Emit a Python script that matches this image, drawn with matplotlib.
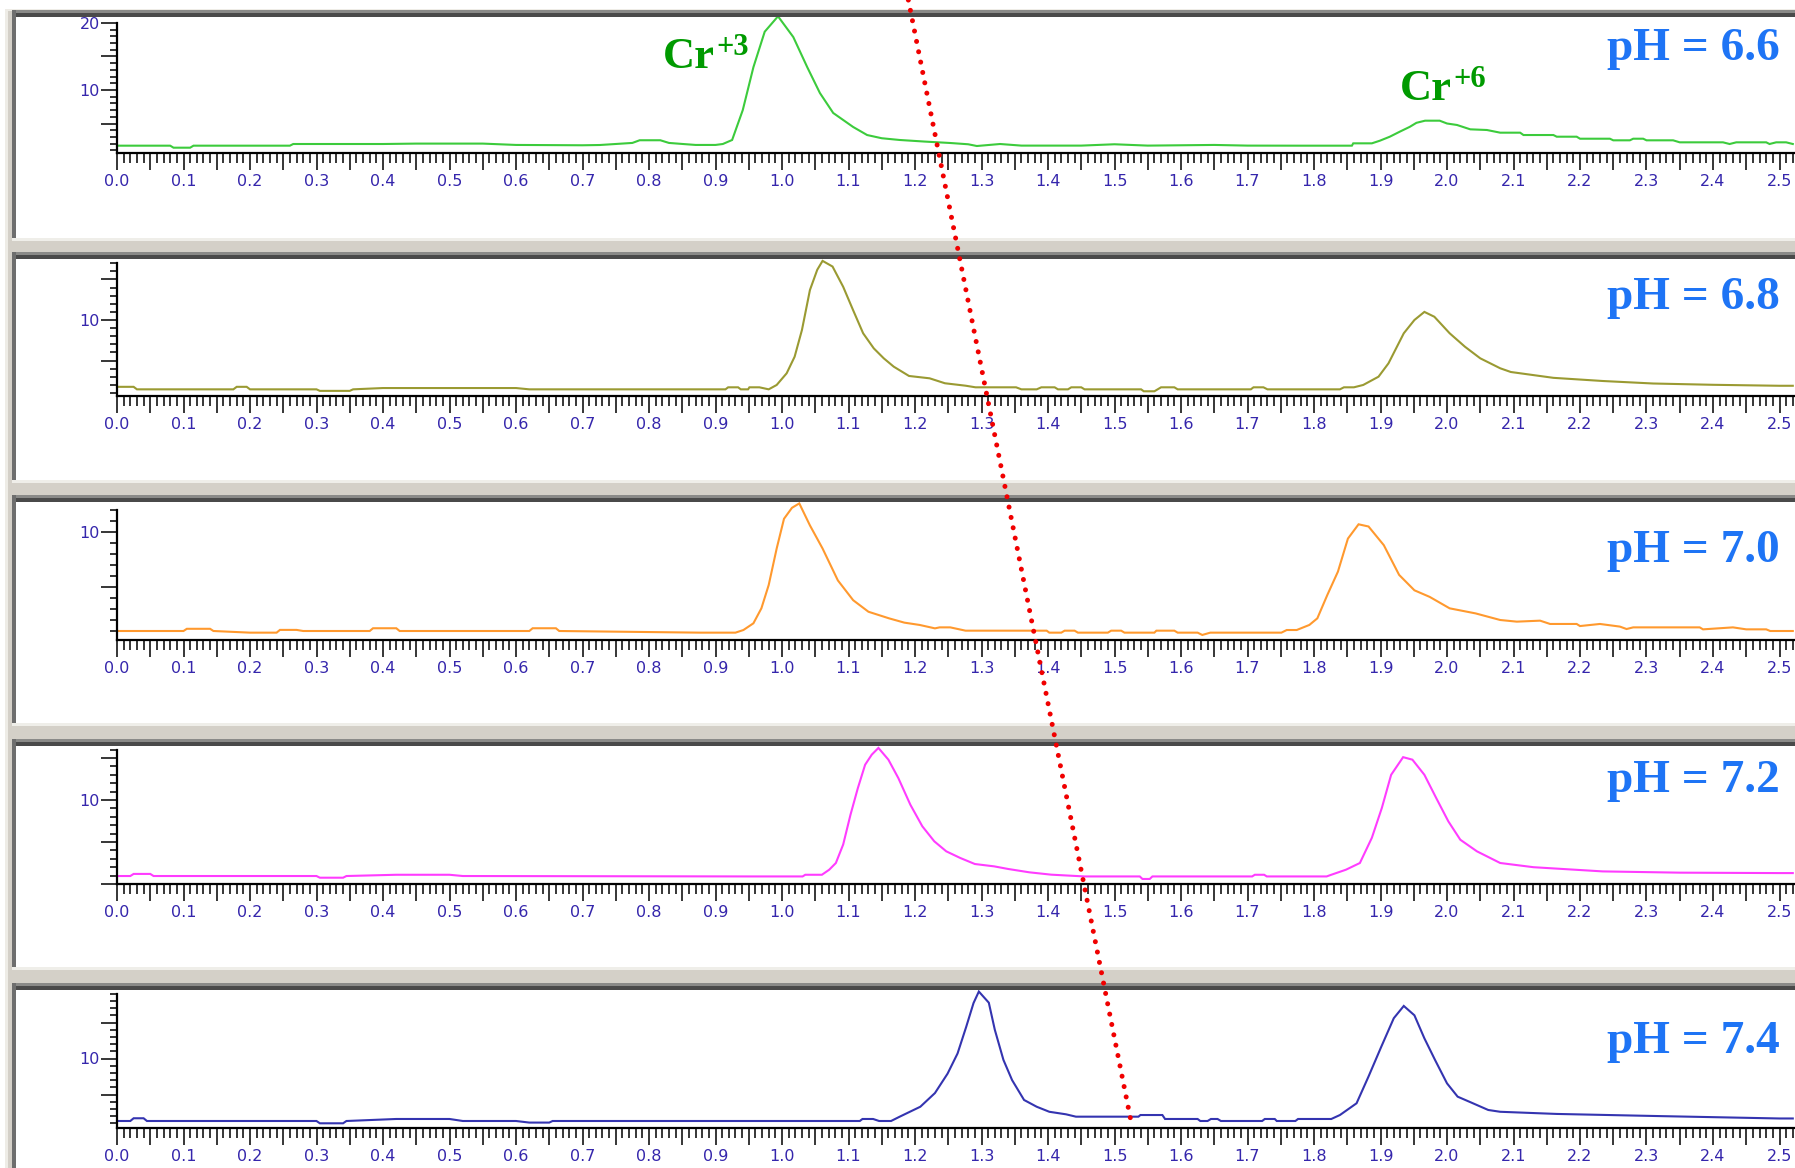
"""Chromatogramme Cr(III) / Cr(VI) bei fuenf pH-Werten, Fenster untereinander."""

import math

import matplotlib
import numpy as np

matplotlib.use("Agg")
import matplotlib.pyplot as plt
from matplotlib.lines import Line2D
from matplotlib.patches import Rectangle
from matplotlib.ticker import FixedLocator, FuncFormatter
from matplotlib.transforms import IdentityTransform

ph66 = [(0.00, 1.69), (0.08, 1.69), (0.085, 1.39), (0.11, 1.39), (0.115, 1.69), (0.26, 1.69),
        (0.265, 1.94), (0.40, 1.94), (0.45, 2.0), (0.55, 2.0), (0.60, 1.8), (0.70, 1.75),
        (0.726, 1.79), (0.775, 2.1), (0.786, 2.5), (0.817, 2.5), (0.83, 2.1), (0.851, 1.94),
        (0.87, 1.8), (0.90, 1.8), (0.911, 1.94), (0.925, 2.54), (0.941, 7.0), (0.957, 13.4),
        (0.974, 18.7), (0.994, 21.0), (1.017, 17.9), (1.038, 13.4), (1.057, 9.55), (1.077, 6.57),
        (1.107, 4.48), (1.128, 3.28), (1.150, 2.8), (1.177, 2.54), (1.215, 2.3), (1.253, 2.09),
        (1.280, 1.9), (1.293, 1.64), (1.328, 1.94), (1.360, 1.7), (1.450, 1.7), (1.500, 1.9),
        (1.550, 1.7), (1.650, 1.8), (1.700, 1.7), (1.779, 1.69), (1.857, 1.69), (1.859, 2.04),
        (1.887, 2.04), (1.899, 2.43), (1.914, 3.03), (1.929, 3.78), (1.944, 4.5), (1.954, 5.1),
        (1.967, 5.42), (1.989, 5.42), (2.000, 5.0), (2.015, 4.78), (2.035, 4.13), (2.060, 4.03),
        (2.080, 3.63), (2.110, 3.63), (2.115, 3.28), (2.160, 3.28), (2.165, 3.03), (2.195, 3.03),
        (2.200, 2.73), (2.245, 2.73), (2.250, 2.49), (2.275, 2.49), (2.280, 2.73), (2.295, 2.73),
        (2.300, 2.49), (2.340, 2.49), (2.350, 2.19), (2.415, 2.19), (2.425, 1.94), (2.435, 2.19),
        (2.480, 2.19), (2.485, 1.94), (2.495, 2.19), (2.510, 2.19), (2.520, 1.94)]

ph68 = [(0.00, 1.75), (0.025, 1.75), (0.03, 1.44), (0.175, 1.44), (0.18, 1.75), (0.195, 1.75),
        (0.20, 1.44), (0.30, 1.44), (0.305, 1.25), (0.35, 1.25), (0.355, 1.44), (0.40, 1.6),
        (0.60, 1.6), (0.62, 1.44), (0.877, 1.44), (0.915, 1.44), (0.919, 1.69), (0.934, 1.69),
        (0.938, 1.44), (0.949, 1.44), (0.951, 1.69), (0.966, 1.69), (0.980, 1.44), (0.992, 1.98),
        (1.007, 3.42), (1.019, 5.47), (1.030, 8.77), (1.042, 13.7), (1.053, 16.2), (1.061, 17.3),
        (1.076, 16.6), (1.092, 14.1), (1.107, 11.2), (1.122, 8.36), (1.138, 6.5), (1.153, 5.27),
        (1.168, 4.24), (1.191, 3.09), (1.222, 2.8), (1.245, 2.19), (1.276, 1.89), (1.291, 1.69),
        (1.352, 1.69), (1.360, 1.44), (1.383, 1.44), (1.390, 1.69), (1.410, 1.69), (1.415, 1.44),
        (1.430, 1.44), (1.435, 1.69), (1.450, 1.69), (1.455, 1.44), (1.540, 1.44), (1.544, 1.2),
        (1.560, 1.2), (1.570, 1.69), (1.590, 1.69), (1.595, 1.44), (1.705, 1.44), (1.709, 1.69),
        (1.724, 1.69), (1.730, 1.44), (1.839, 1.44), (1.845, 1.69), (1.860, 1.69), (1.874, 1.98),
        (1.897, 3.0), (1.912, 4.65), (1.935, 8.36), (1.951, 10.0), (1.966, 11.0), (1.981, 10.4),
        (2.004, 8.36), (2.027, 6.7), (2.050, 5.27), (2.080, 4.04), (2.096, 3.58), (2.160, 2.86),
        (2.234, 2.47), (2.310, 2.16), (2.400, 2.0), (2.500, 1.88), (2.520, 1.88)]

ph70 = [(0.00, 1.0), (0.10, 1.0), (0.105, 1.2), (0.14, 1.2), (0.145, 1.0), (0.20, 0.85),
        (0.24, 0.85), (0.245, 1.1), (0.27, 1.1), (0.28, 1.0), (0.38, 1.0), (0.385, 1.25),
        (0.42, 1.25), (0.425, 1.0), (0.62, 1.0), (0.625, 1.25), (0.66, 1.25), (0.665, 1.0),
        (0.877, 0.85), (0.930, 0.85), (0.942, 1.09), (0.957, 1.7), (0.969, 3.06), (0.980, 5.18),
        (0.992, 8.5), (1.003, 11.2), (1.015, 12.2), (1.026, 12.6), (1.042, 10.6), (1.061, 8.5),
        (1.084, 5.6), (1.107, 3.8), (1.130, 2.75), (1.161, 2.15), (1.184, 1.76), (1.207, 1.55),
        (1.230, 1.24), (1.237, 1.33), (1.253, 1.33), (1.276, 1.03), (1.398, 1.03), (1.402, 0.85),
        (1.420, 0.85), (1.425, 1.03), (1.440, 1.03), (1.445, 0.85), (1.490, 0.85), (1.495, 1.03),
        (1.510, 1.03), (1.515, 0.85), (1.560, 0.85), (1.563, 1.03), (1.590, 1.03), (1.595, 0.85),
        (1.625, 0.85), (1.632, 0.64), (1.644, 0.85), (1.751, 0.85), (1.759, 1.09), (1.774, 1.09),
        (1.793, 1.55), (1.805, 2.15), (1.820, 4.27), (1.836, 6.4), (1.851, 9.4), (1.867, 10.7),
        (1.882, 10.5), (1.905, 8.8), (1.928, 6.1), (1.951, 4.7), (1.974, 4.1), (2.004, 3.06),
        (2.043, 2.6), (2.080, 2.0), (2.105, 1.85), (2.140, 1.94), (2.155, 1.64), (2.195, 1.64),
        (2.200, 1.45), (2.230, 1.64), (2.260, 1.4), (2.270, 1.18), (2.280, 1.33), (2.380, 1.33),
        (2.385, 1.15), (2.430, 1.33), (2.450, 1.15), (2.480, 1.15), (2.486, 1.0), (2.520, 1.0)]

ph72 = [(0.00, 0.95), (0.02, 0.95), (0.025, 1.2), (0.05, 1.2), (0.055, 0.95), (0.30, 0.95),
        (0.305, 0.75), (0.34, 0.75), (0.345, 0.95), (0.42, 1.1), (0.50, 1.1), (0.52, 0.95),
        (0.952, 0.9), (1.031, 0.9), (1.035, 1.1), (1.060, 1.1), (1.071, 1.7), (1.081, 2.5),
        (1.092, 4.7), (1.103, 8.25), (1.114, 11.4), (1.125, 14.2), (1.135, 15.4), (1.145, 16.2),
        (1.160, 14.8), (1.175, 12.6), (1.193, 9.44), (1.211, 6.87), (1.229, 5.08), (1.247, 3.89),
        (1.268, 3.1), (1.290, 2.38), (1.319, 2.1), (1.340, 1.79), (1.372, 1.39), (1.405, 1.11),
        (1.455, 0.9), (1.538, 0.9), (1.542, 0.6), (1.553, 0.6), (1.557, 0.9), (1.707, 0.9),
        (1.711, 1.1), (1.725, 1.1), (1.729, 0.9), (1.819, 0.9), (1.826, 1.1), (1.848, 1.7),
        (1.869, 2.5), (1.887, 5.5), (1.902, 9.05), (1.916, 13.0), (1.934, 15.1), (1.948, 14.8),
        (1.966, 13.0), (1.984, 10.2), (2.002, 7.46), (2.020, 5.27), (2.045, 3.89), (2.080, 2.5),
        (2.130, 2.0), (2.234, 1.5), (2.350, 1.35), (2.500, 1.3), (2.520, 1.3)]

ph74 = [(0.00, 1.32), (0.02, 1.32), (0.025, 1.7), (0.04, 1.7), (0.045, 1.32), (0.30, 1.32),
        (0.305, 1.0), (0.34, 1.0), (0.345, 1.32), (0.42, 1.6), (0.50, 1.6), (0.52, 1.32),
        (0.60, 1.32), (0.62, 1.1), (0.65, 1.1), (0.655, 1.32), (1.117, 1.32), (1.121, 1.6),
        (1.137, 1.6), (1.146, 1.32), (1.164, 1.32), (1.177, 1.92), (1.208, 3.3), (1.230, 5.2),
        (1.249, 7.9), (1.264, 10.7), (1.277, 14.4), (1.288, 17.7), (1.296, 19.3), (1.311, 17.75),
        (1.320, 14.0), (1.333, 9.8), (1.346, 7.0), (1.364, 4.24), (1.383, 3.3), (1.402, 2.6),
        (1.427, 2.25), (1.442, 1.92), (1.536, 1.92), (1.539, 2.15), (1.572, 2.15), (1.576, 1.6),
        (1.625, 1.6), (1.629, 1.32), (1.640, 1.32), (1.645, 1.6), (1.655, 1.6), (1.660, 1.32),
        (1.722, 1.32), (1.726, 1.6), (1.741, 1.6), (1.744, 1.32), (1.772, 1.32), (1.776, 1.6),
        (1.826, 1.6), (1.839, 2.15), (1.864, 3.78), (1.882, 7.5), (1.901, 11.6), (1.920, 15.6),
        (1.935, 17.3), (1.951, 16.0), (1.966, 12.8), (1.982, 9.8), (2.000, 6.55), (2.016, 4.7),
        (2.037, 3.86), (2.062, 2.85), (2.080, 2.6), (2.165, 2.3), (2.320, 2.0), (2.500, 1.67),
        (2.520, 1.67)]

ph_texte = ["pH = 6.6", "pH = 6.8", "pH = 7.0", "pH = 7.2", "pH = 7.4"]
kurven = [ph66, ph68, ph70, ph72, ph74]
farben = ["#3ccb3c", "#9a9a32", "#ff992e", "#ff3cff", "#3434b0"]
oberster_tick = [20, 17, 12, 16, 19]

# rote Markierungslinie (Zeit oben am Bildrand, Endpunkt im letzten Fenster)
rot_t_oben = 1.19
rot_t_unten = 1.525
rot_s_unten = 1.2

# Layout in Pixeln (1795 x 1168)
W, H = 1795, 1168
X0_PIX = 117
PIX_PRO_MIN = 665
INNEN_LINKS = 16
FENSTER_H = 221
fenster_oben = [17, 259, 502, 746, 990]
null_pix = [157, 401, 642, 884, 1130.5]
pix_pro_einheit = [6.7, 8.1, 11.0, 8.4, 7.2]
achsen_pix = [153.3, 396, 640, 884, 1128]
text_basis = [60, 309, 562, 792, 1053]

TICKFARBE = "#3526ac"

fig = plt.figure(figsize=(W / 100, H / 100), dpi=100)
fig.patch.set_facecolor("white")


def rechteck(x0, y0, x1, y1, farbe, z):
    fig.add_artist(Rectangle((x0 / W, 1 - y1 / H), (x1 - x0) / W, (y1 - y0) / H,
                             transform=fig.transFigure, facecolor=farbe, edgecolor="none",
                             zorder=z))


# grauer Fensterrahmen
rechteck(5, 9, W, H, "#d4d0c8", -1)
rechteck(5, 9, 8, H, "#eeece6", 0.5)
rechteck(5, 9, W, 11, "#eeece6", 0.5)
for oben in fenster_oben:
    unten = oben + FENSTER_H
    rechteck(12, oben - 7, W, oben - 4, "#8a8a88", 0.5)
    rechteck(12, oben - 4, W, oben, "#4a4a4a", 0.5)
    rechteck(12, oben - 7, INNEN_LINKS, unten, "#6e6e6e", 0.5)
    rechteck(12, unten, W, unten + 3, "#efeee9", 0.5)

x_major = [round(0.05 * k, 2) for k in range(51)]
x_minor = [round(0.01 * k, 2) for k in range(253) if k % 5 != 0]

achsen = []
for i in range(5):
    oben = fenster_oben[i]
    unten = oben + FENSTER_H
    ax = fig.add_axes([INNEN_LINKS / W, 1 - unten / H, (W - INNEN_LINKS) / W, FENSTER_H / H])
    ax.set_facecolor("white")

    t, s = np.array(kurven[i]).T
    ax.plot(t, s, color=farben[i], lw=1.5, solid_joinstyle="miter")

    x_max = (W - X0_PIX) / PIX_PRO_MIN
    ax.set_xlim((INNEN_LINKS - X0_PIX) / PIX_PRO_MIN, x_max)
    ax.set_ylim((null_pix[i] - unten) / pix_pro_einheit[i], (null_pix[i] - oben) / pix_pro_einheit[i])
    achse = (null_pix[i] - achsen_pix[i]) / pix_pro_einheit[i]

    for seite in ["top", "right"]:
        ax.spines[seite].set_visible(False)
    ax.spines["bottom"].set_position(("data", achse))
    ax.spines["left"].set_position(("data", 0))
    ax.spines["bottom"].set_bounds(0, x_max)
    ax.spines["left"].set_bounds(achse, oberster_tick[i])
    for seite in ["bottom", "left"]:
        ax.spines[seite].set_linewidth(1.6)
        ax.spines[seite].set_color("black")

    ax.xaxis.set_major_locator(FixedLocator(x_major))
    ax.xaxis.set_minor_locator(FixedLocator(x_minor))
    ax.xaxis.set_major_formatter(FuncFormatter(
        lambda v, pos: f"{v:.1f}" if abs(v * 10 - round(v * 10)) < 1e-6 else ""))

    y_werte = list(range(math.ceil(achse), oberster_tick[i] + 1))
    ax.yaxis.set_major_locator(FixedLocator([v for v in y_werte if v % 5 == 0]))
    ax.yaxis.set_minor_locator(FixedLocator([v for v in y_werte if v % 5 != 0]))
    ax.yaxis.set_major_formatter(FuncFormatter(
        lambda v, pos: str(int(round(v))) if round(v) % 10 == 0 and v > 0 else ""))

    ax.tick_params(axis="x", which="major", direction="out", length=12, width=1.1, pad=3,
                   labelsize=11.5, labelcolor=TICKFARBE, color="black")
    ax.tick_params(axis="x", which="minor", direction="out", length=7, width=1.1, color="black")
    ax.tick_params(axis="y", which="major", direction="out", length=11.5, width=1.1, pad=1,
                   labelsize=11.5, labelcolor=TICKFARBE, color="black")
    ax.tick_params(axis="y", which="minor", direction="out", length=5, width=1.1, color="black")

    fig.text(1780 / W, 1 - text_basis[i] / H, ph_texte[i], ha="right", va="baseline",
             fontsize=34, fontweight="bold", family="Liberation Serif", color="#1e74f5")
    achsen.append(ax)

# Peakbeschriftung im obersten Fenster
for x_pix, y_pix, hoch in [(663, 68, "+3"), (1400, 100, "+6")]:
    fig.text(x_pix / W, 1 - y_pix / H, "Cr", ha="left", va="baseline", fontsize=32,
             fontweight="bold", family="Liberation Serif", color="#009a00")
    fig.text((x_pix + 53) / W, 1 - (y_pix - 13) / H, hoch, ha="left", va="baseline",
             fontsize=22, fontweight="bold", family="Liberation Serif", color="#009a00")

ax5 = achsen[-1]
x_oben = ax5.transData.transform((rot_t_oben, 0))[0]
x_unten, y_unten = ax5.transData.transform((rot_t_unten, rot_s_unten))
fig.add_artist(Line2D([x_oben, x_unten], [H, y_unten], transform=IdentityTransform(),
                      color="#f00000", lw=3.6, linestyle=(0, (0.01, 2.1)),
                      dash_capstyle="round", zorder=10))

fig.savefig("out.png", dpi=100)
